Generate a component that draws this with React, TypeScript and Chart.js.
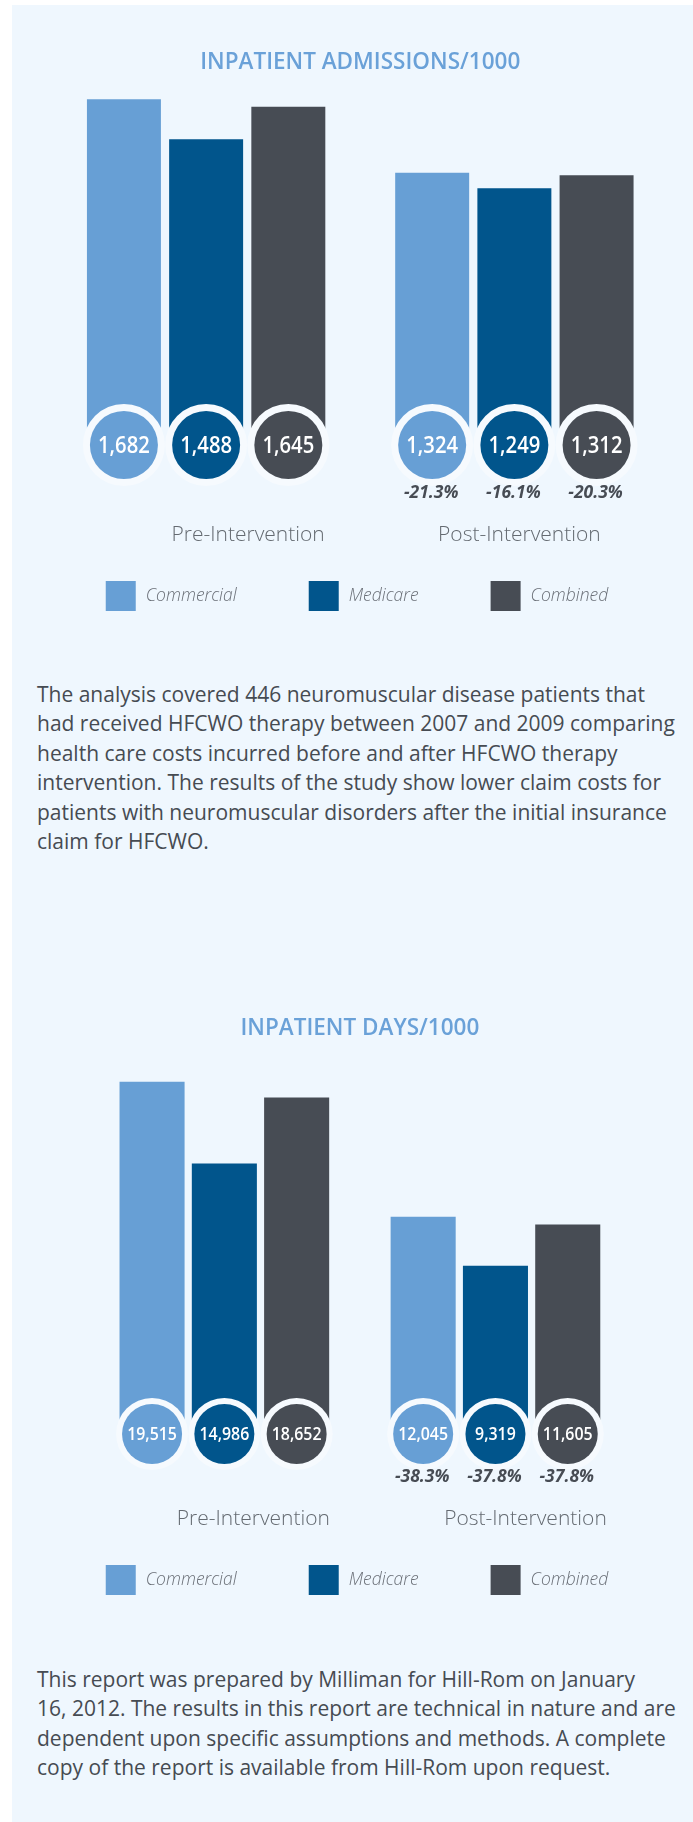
import React, { useEffect, useRef } from "react";
import { Chart, registerables } from "chart.js";

Chart.register(...registerables);

// ---------- DATA ----------
const groups = ["Pre-Intervention", "Post-Intervention"];
const seriesNames = ["Commercial", "Medicare", "Combined"];
const seriesColors = ["#679FD5", "#01558C", "#474C54"];

const admissionsCommercial = [1682, 1324];
const admissionsMedicare = [1488, 1249];
const admissionsCombined = [1645, 1312];
const admissionsCommercialChange = ["", "-21.3%"];
const admissionsMedicareChange = ["", "-16.1%"];
const admissionsCombinedChange = ["", "-20.3%"];

const daysCommercial = [19515, 12045];
const daysMedicare = [14986, 9319];
const daysCombined = [18652, 11605];
const daysCommercialChange = ["", "-38.3%"];
const daysMedicareChange = ["", "-37.8%"];
const daysCombinedChange = ["", "-37.8%"];

const paragraph1 = [
  "The analysis covered 446 neuromuscular disease patients that",
  "had received HFCWO therapy between 2007 and 2009 comparing",
  "health care costs incurred before and after HFCWO therapy",
  "intervention. The results of the study show lower claim costs for",
  "patients with neuromuscular disorders after the initial insurance",
  "claim for HFCWO.",
];
const paragraph2 = [
  "This report was prepared by Milliman for Hill-Rom on January",
  "16, 2012. The results in this report are technical in nature and are",
  "dependent upon specific assumptions and methods. A complete",
  "copy of the report is available from Hill-Rom upon request.",
];

const FONT = "'Open Sans', 'Noto Sans', sans-serif";

const decorPlugin = {
  id: "decor",
  afterDatasetsDraw(chart: any, _args: any, opts: any) {
    const ctx: CanvasRenderingContext2D = chart.ctx;
    const yScale = chart.scales.y;
    const xScale = chart.scales.x;
    const area = chart.chartArea;
    const base = yScale.getPixelForValue(0);
    ctx.save();
    ctx.textAlign = "center";
    ctx.textBaseline = "middle";

    // title
    ctx.font = `600 ${opts.titleSize}px ${FONT}`;
    ctx.fillStyle = "#6AA1D8";
    ctx.fillText(opts.title, (area.left + area.right) / 2, opts.titleY);

    // circles, values, changes
    chart.data.datasets.forEach((ds: any, di: number) => {
      const meta = chart.getDatasetMeta(di);
      meta.data.forEach((el: any, i: number) => {
        const { x } = el.getProps(["x"], true);
        const r = opts.radius;
        ctx.beginPath();
        ctx.arc(x, base, r + opts.ring, 0, Math.PI * 2);
        ctx.fillStyle = "#F6FAFE";
        ctx.fill();
        ctx.beginPath();
        ctx.arc(x, base, r, 0, Math.PI * 2);
        ctx.fillStyle = ds.backgroundColor;
        ctx.fill();
        // condensed value label
        ctx.save();
        ctx.translate(x, base + 1);
        ctx.scale(opts.valueSqueeze, 1);
        ctx.fillStyle = "#FFFFFF";
        ctx.font = `600 ${opts.valueSize}px ${FONT}`;
        ctx.fillText(Number(ds.data[i]).toLocaleString("en-US"), 0, 0);
        ctx.restore();
        const ch = opts.changes[di][i];
        if (ch) {
          ctx.font = `italic 700 ${opts.changeSize}px ${FONT}`;
          ctx.fillStyle = "#474C54";
          ctx.fillText(ch, x - 1, base + r + opts.changeGap);
        }
      });
    });

    // category labels
    ctx.font = `300 ${opts.catSize}px ${FONT}`;
    ctx.fillStyle = "#646A71";
    chart.data.labels.forEach((lab: string, i: number) => {
      ctx.fillText(lab, xScale.getPixelForValue(i) + opts.catOffsets[i], base + opts.catDy);
    });

    // legend
    ctx.font = `italic 300 ${opts.legendSize}px ${FONT}`;
    const box = 30;
    const textGap = 10;
    const gap = 72;
    const widths = chart.data.datasets.map(
      (ds: any) => box + textGap + ctx.measureText(ds.label).width
    );
    const total = widths.reduce((a: number, b: number) => a + b, 0) + gap * (widths.length - 1);
    let lx = opts.legendCenter - total / 2;
    const ly = base + opts.legendDy;
    chart.data.datasets.forEach((ds: any, di: number) => {
      ctx.fillStyle = ds.backgroundColor;
      ctx.fillRect(lx, ly, box, box);
      ctx.fillStyle = "#6B7078";
      ctx.textAlign = "left";
      ctx.fillText(ds.label, lx + box + textGap, ly + box / 2);
      lx += widths[di] + gap;
    });
    ctx.restore();
  },
};

function BarPanel(props: {
  top: number;
  height: number;
  series: number[][];
  changes: string[][];
  yMax: number;
  padding: { left: number; right: number; top: number; bottom: number };
  deco: any;
}) {
  const ref = useRef<HTMLCanvasElement | null>(null);
  useEffect(() => {
    if (!ref.current) return;
    const chart = new Chart(ref.current, {
      type: "bar",
      data: {
        labels: groups,
        datasets: seriesNames.map((name, i) => ({
          label: name,
          data: props.series[i],
          backgroundColor: seriesColors[i],
          borderWidth: 0,
          barPercentage: 0.9,
          categoryPercentage: 0.8,
        })),
      },
      options: {
        animation: false,
        responsive: false,
        devicePixelRatio: 1,
        events: [],
        layout: { padding: props.padding },
        scales: {
          x: { display: false },
          y: { display: false, min: 0, max: props.yMax },
        },
        plugins: {
          legend: { display: false },
          title: { display: false },
          tooltip: { enabled: false },
          decor: { ...props.deco, changes: props.changes },
        } as any,
      },
      plugins: [decorPlugin as any],
    });
    return () => chart.destroy();
  }, []);
  return (
    <canvas
      ref={ref}
      width={693}
      height={props.height}
      style={{ position: "absolute", left: 0, top: props.top, width: 693, height: props.height }}
    />
  );
}

const textStyle: React.CSSProperties = {
  position: "absolute",
  left: 37,
  fontFamily: FONT,
  fontSize: 21,
  lineHeight: "29.4px",
  color: "#464B52",
  whiteSpace: "nowrap",
};

export default function App() {
  return (
    <div style={{ position: "absolute", left: 0, top: 0, width: 693, height: 1822, overflow: "hidden", background: "#FFFFFF" }}>
      <div style={{ position: "absolute", left: 12, top: 5, width: 681, height: 1817, background: "#EFF7FE" }} />
      <BarPanel
        top={0}
        height={650}
        series={[admissionsCommercial, admissionsMedicare, admissionsCombined]}
        changes={[admissionsCommercialChange, admissionsMedicareChange, admissionsCombinedChange]}
        yMax={1800}
        padding={{ left: 52, right: 24.5, top: 75, bottom: 205 }}
        deco={{
          title: "INPATIENT ADMISSIONS/1000",
          titleSize: 22.5,
          titleY: 63,
          radius: 34,
          ring: 7,
          valueSize: 23,
          valueSqueeze: 0.88,
          changeSize: 17.5,
          changeGap: 14,
          catSize: 21,
          catDy: 90,
          catOffsets: [42, 5],
          legendSize: 17.5,
          legendDy: 136,
          legendCenter: 357,
        }}
      />
      <div style={{ ...textStyle, top: 680 }}>
        {paragraph1.map((l, i) => (
          <div key={i}>{l}</div>
        ))}
      </div>
      <BarPanel
        top={990}
        height={640}
        series={[daysCommercial, daysMedicare, daysCombined]}
        changes={[daysCommercialChange, daysMedicareChange, daysCombinedChange]}
        yMax={22000}
        padding={{ left: 88.8, right: 62, top: 47, bottom: 196 }}
        deco={{
          title: "INPATIENT DAYS/1000",
          titleSize: 22.5,
          titleY: 39,
          radius: 30,
          ring: 6,
          valueSize: 18.5,
          valueSqueeze: 0.86,
          changeSize: 17.5,
          changeGap: 13,
          catSize: 21,
          catDy: 85,
          catOffsets: [29, 30],
          legendSize: 17.5,
          legendDy: 131,
          legendCenter: 357,
        }}
      />
      <div style={{ ...textStyle, top: 1665 }}>
        {paragraph2.map((l, i) => (
          <div key={i}>{l}</div>
        ))}
      </div>
    </div>
  );
}
